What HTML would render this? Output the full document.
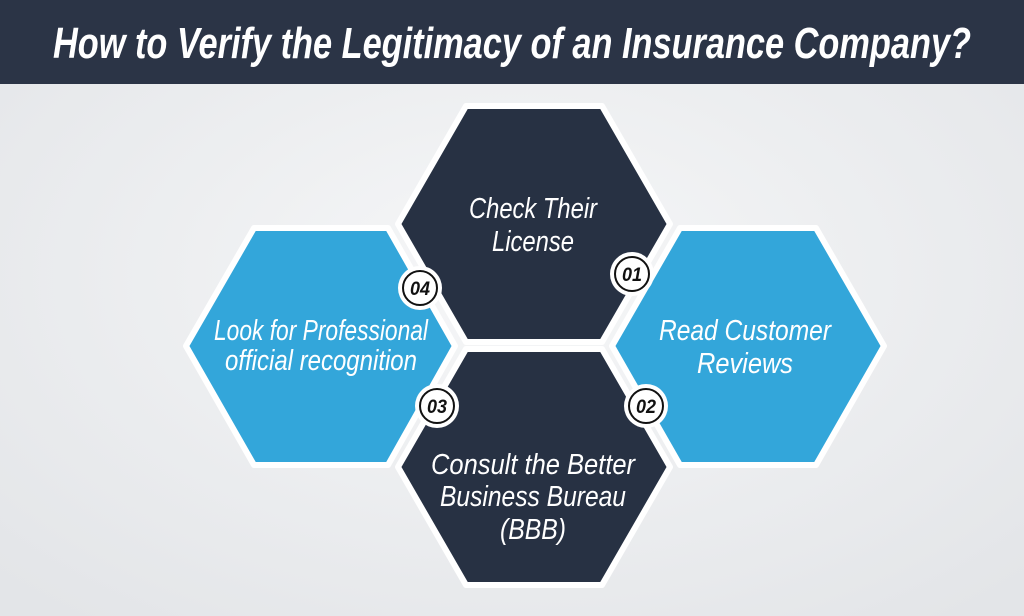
<!DOCTYPE html>
<html><head><style>
html,body{margin:0;padding:0;width:1024px;height:616px;overflow:hidden;background:#eceef0;}
svg{display:block}
text{font-family:"Liberation Sans",sans-serif;}
</style></head><body>
<svg width="1024" height="616" viewBox="0 0 1024 616">
<defs>
<radialGradient id="bg" cx="50%" cy="45%" r="70%"><stop offset="0" stop-color="#f6f7f8"/><stop offset="1" stop-color="#e3e5e8"/></radialGradient>
</defs>
<rect width="1024" height="616" fill="url(#bg)"/>
<rect width="1024" height="84" fill="#2b3446"/>
<text x="512" y="58" text-anchor="middle" font-size="44" font-weight="bold" font-style="italic" fill="#fff" textLength="918" lengthAdjust="spacingAndGlyphs">How to Verify the Legitimacy of an Insurance Company?</text>

<g stroke="#fff" stroke-width="6" stroke-linejoin="round">
<polygon points="254,228 388,228 455,346 388,465 254,465 186,346" fill="#33a6da"/>
<polygon points="680,228 816,228 884,346 816,465 680,465 612,346" fill="#33a6da"/>
<polygon points="466,106 602,106 670,224 602,342 466,342 398,224" fill="#273143"/>
<polygon points="466,349 602,349 670,467 602,585 466,585 398,467" fill="#273143"/>
</g>

<g font-size="19" font-weight="bold" font-style="italic" text-anchor="middle" fill="#111">
<circle cx="632" cy="274" r="22" fill="#fff"/><circle cx="632" cy="274" r="17" fill="#fff" stroke="#111" stroke-width="2"/><text x="632" y="281" textLength="20" lengthAdjust="spacingAndGlyphs">01</text>
<circle cx="420" cy="288" r="22" fill="#fff"/><circle cx="420" cy="288" r="17" fill="#fff" stroke="#111" stroke-width="2"/><text x="420" y="295" textLength="20" lengthAdjust="spacingAndGlyphs">04</text>
<circle cx="437" cy="406" r="22" fill="#fff"/><circle cx="437" cy="406" r="17" fill="#fff" stroke="#111" stroke-width="2"/><text x="437" y="413" textLength="20" lengthAdjust="spacingAndGlyphs">03</text>
<circle cx="646" cy="406" r="22" fill="#fff"/><circle cx="646" cy="406" r="17" fill="#fff" stroke="#111" stroke-width="2"/><text x="646" y="413" textLength="20" lengthAdjust="spacingAndGlyphs">02</text>
</g>

<g font-size="29" font-style="italic" text-anchor="middle" fill="#fff">
<text x="533" y="218" textLength="128" lengthAdjust="spacingAndGlyphs">Check Their</text>
<text x="533" y="251" textLength="82" lengthAdjust="spacingAndGlyphs">License</text>
<text x="745" y="340" textLength="172" lengthAdjust="spacingAndGlyphs">Read Customer</text>
<text x="745" y="373" textLength="96" lengthAdjust="spacingAndGlyphs">Reviews</text>
<text x="321" y="340" textLength="214" lengthAdjust="spacingAndGlyphs">Look for Professional</text>
<text x="321" y="370" textLength="192" lengthAdjust="spacingAndGlyphs">official recognition</text>
<text x="533" y="474" textLength="204" lengthAdjust="spacingAndGlyphs">Consult the Better</text>
<text x="533" y="506" textLength="186" lengthAdjust="spacingAndGlyphs">Business Bureau</text>
<text x="533" y="539" textLength="66" lengthAdjust="spacingAndGlyphs">(BBB)</text>
</g>
</svg>
</body></html>
